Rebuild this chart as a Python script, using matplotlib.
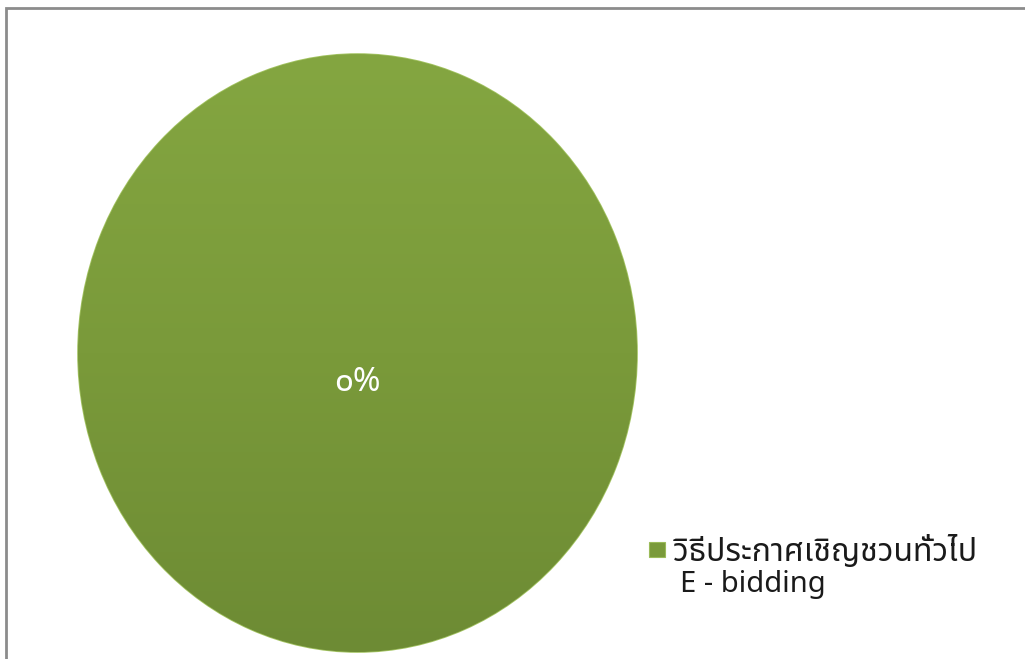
import matplotlib.pyplot as plt
import numpy as np
from matplotlib.patches import Rectangle
from matplotlib.colors import LinearSegmentedColormap

plt.rcParams['font.family'] = ['Noto Sans Thai', 'Noto Sans', 'DejaVu Sans']

categories = ['วิธีประกาศเชิญชวนทั่วไป', 'E - bidding']
values = [100, 0]
value_labels = ['๐%']
colors = ['#7a9a3a', '#c0504d']

fig = plt.figure(figsize=(10.25, 6.59), dpi=100)
# pie is stretched a bit vertically in the reference
ax = fig.add_axes([0.0761, 0.0106, 0.5454, 0.9074])

wedges, _ = ax.pie(values[:1], colors=colors[:1], startangle=90, radius=1,
                   wedgeprops=dict(edgecolor='#a4c463', linewidth=1.2))
ax.set_aspect('auto')
ax.set_xlim(-1, 1)
ax.set_ylim(-1, 1)

# soft vertical shading like the office chart style
grad = np.linspace(1, 0, 256).reshape(-1, 1)
cmap = LinearSegmentedColormap.from_list('g', ['#6d8b34', '#7a9a3a', '#84a641'])
img = ax.imshow(grad, extent=(-1, 1, -1, 1), cmap=cmap, aspect='auto', zorder=1.5)
img.set_clip_path(wedges[0])
wedges[0].set_zorder(1)

ax.text(0, -0.1, value_labels[0], ha='center', va='center', color='white',
        fontsize=24, fontweight='bold', zorder=3)

# legend
fig.text(0.657, 0.162, categories[0], ha='left', va='center', fontsize=23, color='#1a1a1a')
fig.text(0.663, 0.113, categories[1], ha='left', va='center', fontsize=21, color='#1a1a1a')
fig.patches.append(Rectangle((0.633, 0.155), 0.016, 0.022, transform=fig.transFigure,
                             facecolor=colors[0], edgecolor='#9bbb59', lw=0.8))

# chart border
fig.patches.append(Rectangle((0.006, -0.01), 1.0, 0.998, transform=fig.transFigure,
                             fill=False, edgecolor='#8c8c8c', lw=2))

fig.savefig('out.png', dpi=100)
